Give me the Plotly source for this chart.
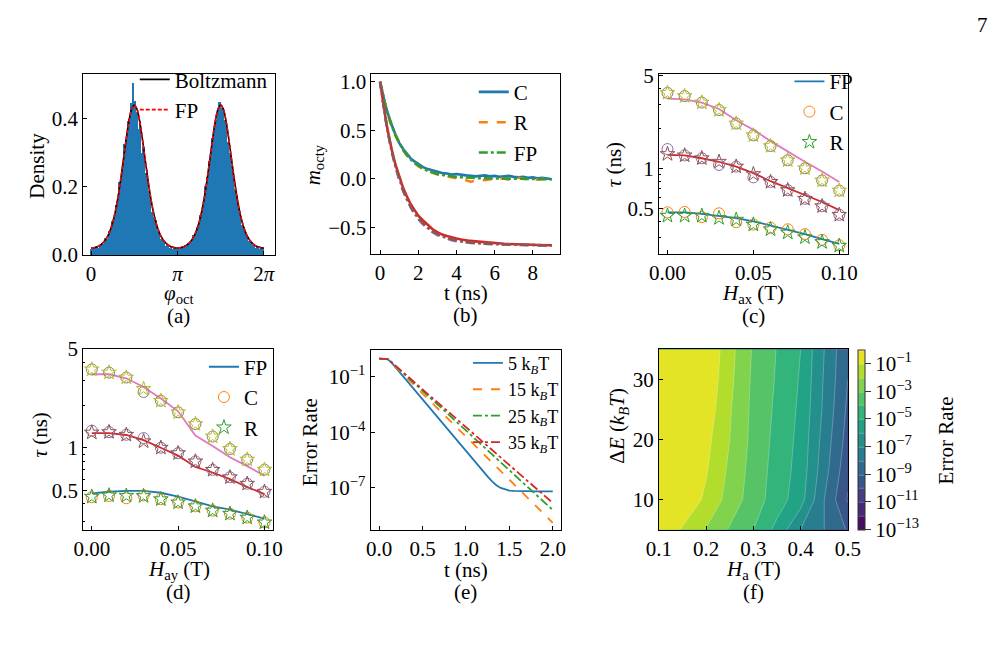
import numpy as np
import plotly.graph_objects as go

W, H = 1007, 645
FONT = "Liberation Serif, Times New Roman, serif"
FS = 21

# ---------------- (a) phase distribution ----------------
hist_edges = np.linspace(0, 2 * np.pi, 101)
hist_density = [
    0.018, 0.024, 0.020, 0.027, 0.022, 0.031, 0.036, 0.034, 0.050, 0.048,
    0.072, 0.071, 0.101, 0.108, 0.147, 0.160, 0.215, 0.226, 0.262, 0.325,
    0.338, 0.392, 0.398, 0.445, 0.505, 0.452, 0.418, 0.370, 0.392, 0.300,
    0.318, 0.242, 0.250, 0.188, 0.176, 0.128, 0.112, 0.102, 0.071, 0.068,
    0.049, 0.044, 0.036, 0.028, 0.031, 0.022, 0.027, 0.018, 0.024, 0.019,
    0.021, 0.017, 0.025, 0.022, 0.029, 0.027, 0.037, 0.040, 0.043, 0.058,
    0.062, 0.083, 0.090, 0.118, 0.133, 0.161, 0.202, 0.228, 0.276, 0.300,
    0.342, 0.370, 0.395, 0.420, 0.448, 0.430, 0.432, 0.395, 0.385, 0.332,
    0.298, 0.262, 0.238, 0.195, 0.172, 0.138, 0.118, 0.090, 0.082, 0.061,
    0.056, 0.042, 0.038, 0.029, 0.033, 0.022, 0.026, 0.017, 0.024, 0.020,
]
curve_phi = np.linspace(0, 2 * np.pi, 65)
boltzmann_density = [
    0.0206, 0.0212, 0.0231, 0.0266, 0.0322, 0.0406, 0.0529, 0.0705, 0.0950,
    0.1280, 0.1706, 0.2222, 0.2802, 0.3389, 0.3903, 0.4259, 0.4386,
    0.4259, 0.3903, 0.3389, 0.2802, 0.2222, 0.1706, 0.1280, 0.0950,
    0.0705, 0.0529, 0.0406, 0.0322, 0.0266, 0.0231, 0.0212, 0.0206,
    0.0212, 0.0231, 0.0266, 0.0322, 0.0406, 0.0529, 0.0705, 0.0950,
    0.1280, 0.1706, 0.2222, 0.2802, 0.3389, 0.3903, 0.4259, 0.4386,
    0.4259, 0.3903, 0.3389, 0.2802, 0.2222, 0.1706, 0.1280, 0.0950,
    0.0705, 0.0529, 0.0406, 0.0322, 0.0266, 0.0231, 0.0212, 0.0206,
]
fp_density = [
    0.0207, 0.0213, 0.0232, 0.0267, 0.0323, 0.0407, 0.0530, 0.0706, 0.0951,
    0.1281, 0.1707, 0.2223, 0.2803, 0.3390, 0.3904, 0.4260, 0.4387,
    0.4260, 0.3904, 0.3390, 0.2803, 0.2223, 0.1707, 0.1281, 0.0951,
    0.0706, 0.0530, 0.0407, 0.0323, 0.0267, 0.0232, 0.0213, 0.0207,
    0.0213, 0.0232, 0.0267, 0.0323, 0.0407, 0.0530, 0.0706, 0.0951,
    0.1281, 0.1707, 0.2223, 0.2803, 0.3390, 0.3904, 0.4260, 0.4387,
    0.4260, 0.3904, 0.3390, 0.2803, 0.2223, 0.1707, 0.1281, 0.0951,
    0.0706, 0.0530, 0.0407, 0.0323, 0.0267, 0.0232, 0.0213, 0.0207,
]

# ---------------- (b) relaxation ----------------
t_b = [0, 0.1, 0.2, 0.3, 0.4, 0.5, 0.6, 0.8, 1.0, 1.2, 1.4, 1.6, 1.8, 2.0,
       2.25, 2.5, 2.75, 3.0, 3.25, 3.5, 3.75, 4.0, 4.25, 4.5, 4.75, 5.0,
       5.25, 5.5, 5.75, 6.0, 6.25, 6.5, 6.75, 7.0, 7.25, 7.5, 7.75, 8.0,
       8.25, 8.5, 8.75, 9.0]
up_C = [1.0, 0.90, 0.83, 0.74, 0.68, 0.61, 0.56,
        0.46, 0.37, 0.31, 0.26, 0.21, 0.18, 0.15,
        0.12, 0.10, 0.085, 0.07, 0.06, 0.055, 0.045, 0.05, 0.04, 0.035,
        0.03, 0.025, 0.03, 0.035, 0.025, 0.03, 0.02, 0.025, 0.03, 0.02,
        0.015, 0.02, 0.01, 0.015, 0.005, 0.01, 0.0, -0.005]
up_R = [1.0, 0.90, 0.82, 0.75, 0.67, 0.60, 0.55,
        0.45, 0.36, 0.30, 0.24, 0.20, 0.16, 0.13,
        0.10, 0.08, 0.06, 0.045, 0.035, 0.025, 0.02, 0.01, 0.0, -0.015,
        -0.03, -0.02, -0.01, -0.015, -0.005, -0.01, 0.005, 0.0, -0.01, 0.0,
        0.01, 0.0, -0.005, 0.0, -0.01, 0.0, -0.005, -0.01]
up_FP = [1.0, 0.905, 0.82, 0.74, 0.67, 0.607, 0.55,
         0.45, 0.37, 0.30, 0.247, 0.20, 0.165, 0.135,
         0.105, 0.082, 0.064, 0.05, 0.04, 0.032, 0.026, 0.02, 0.016, 0.012,
         0.01, 0.008, 0.006, 0.005, 0.004, 0.003, 0.002, 0.002, 0.001, 0.001,
         0.0, 0.0, 0.0, -0.002, -0.002, -0.003, -0.004, -0.005]
lo_C = [1.0, 0.86, 0.73, 0.61, 0.50, 0.40, 0.31,
        0.15, 0.02, -0.09, -0.18, -0.26, -0.32, -0.38,
        -0.43, -0.48, -0.52, -0.55, -0.575, -0.59, -0.605, -0.615, -0.625, -0.635,
        -0.64, -0.645, -0.65, -0.655, -0.66, -0.665, -0.668, -0.67, -0.672, -0.675,
        -0.675, -0.678, -0.68, -0.68, -0.682, -0.683, -0.684, -0.685]
lo_R = [1.0, 0.85, 0.72, 0.60, 0.49, 0.385, 0.29,
        0.13, -0.01, -0.12, -0.215, -0.295, -0.36, -0.415,
        -0.47, -0.515, -0.55, -0.58, -0.60, -0.62, -0.632, -0.642, -0.65, -0.655,
        -0.66, -0.665, -0.668, -0.67, -0.672, -0.675, -0.677, -0.678, -0.68, -0.68,
        -0.682, -0.683, -0.684, -0.685, -0.686, -0.687, -0.688, -0.69]
lo_FP = [1.0, 0.854, 0.721, 0.599, 0.488, 0.387, 0.294,
         0.132, -0.003, -0.116, -0.21, -0.287, -0.353, -0.408,
         -0.463, -0.507, -0.542, -0.57, -0.593, -0.61, -0.624, -0.636, -0.645, -0.652,
         -0.658, -0.662, -0.666, -0.669, -0.671, -0.673, -0.675, -0.677, -0.678, -0.679,
         -0.68, -0.681, -0.682, -0.683, -0.684, -0.685, -0.686, -0.687]

# ---------------- (c) tau vs H_ax ----------------
H_field = [0.0, 0.01, 0.02, 0.03, 0.04, 0.05, 0.06, 0.07, 0.08, 0.09, 0.10]
c_fp1 = [0.467, 0.467, 0.454, 0.44, 0.423, 0.40, 0.372, 0.348, 0.32, 0.294, 0.271]
c_C1 = [0.467, 0.47, 0.43, 0.459, 0.394, 0.378, 0.358, 0.348, 0.320, 0.29, 0.264]
c_R1 = [0.44, 0.44, 0.44, 0.423, 0.411, 0.378, 0.348, 0.329, 0.303, 0.279, 0.262]
c_fp2 = [1.26, 1.25, 1.19, 1.12, 1.03, 0.92, 0.80, 0.708, 0.623, 0.558, 0.485]
c_C2 = [1.395, 1.25, 1.19, 1.06, 1.03, 0.855, 0.79, 0.685, 0.59, 0.519, 0.447]
c_R2 = [1.28, 1.25, 1.19, 1.12, 1.03, 0.905, 0.79, 0.685, 0.59, 0.519, 0.447]
c_fp3 = [3.34, 3.30, 3.12, 2.79, 2.30, 1.95, 1.60, 1.33, 1.12, 0.945, 0.79]
c_C3 = [3.69, 3.49, 3.12, 2.74, 2.17, 1.77, 1.47, 1.15, 1.0, 0.81, 0.68]
c_R3 = [3.69, 3.49, 3.12, 2.74, 2.17, 1.77, 1.47, 1.15, 1.0, 0.81, 0.68]

# ---------------- (d) tau vs H_ay ----------------
d_fp1 = [0.475, 0.488, 0.495, 0.495, 0.48, 0.451, 0.417, 0.385, 0.365, 0.341, 0.315]
d_C1 = [0.446, 0.455, 0.439, 0.46, 0.432, 0.41, 0.385, 0.359, 0.341, 0.32, 0.296]
d_R1 = [0.45, 0.46, 0.457, 0.455, 0.432, 0.41, 0.385, 0.359, 0.341, 0.32, 0.296]
d_fp2 = [1.27, 1.27, 1.23, 1.13, 1.0, 0.88, 0.73, 0.668, 0.60, 0.527, 0.47]
d_C2 = [1.32, 1.29, 1.235, 1.17, 1.0, 0.915, 0.80, 0.697, 0.618, 0.556, 0.488]
d_R2 = [1.28, 1.29, 1.235, 1.11, 1.0, 0.915, 0.80, 0.697, 0.618, 0.556, 0.488]
d_fp3 = [3.31, 3.31, 3.10, 2.69, 2.23, 1.81, 1.22, 1.03, 0.855, 0.741, 0.633]
d_C3 = [3.58, 3.40, 3.14, 2.48, 2.15, 1.78, 1.47, 1.20, 0.98, 0.824, 0.70]
d_R3 = [3.58, 3.40, 3.14, 2.61, 2.15, 1.78, 1.47, 1.20, 0.98, 0.824, 0.70]

# ---------------- (e) error rate vs time (log10 values) ----------------
t_e = [0, 0.05, 0.1, 0.15, 0.2, 0.25, 0.3, 0.4, 0.5, 0.6, 0.7, 0.8, 0.9, 1.0,
       1.1, 1.2, 1.25, 1.3, 1.35, 1.4, 1.45, 1.5, 1.55, 1.6, 1.7, 1.8, 1.9, 2.0]
log_err_5 = [-0.024, -0.024, -0.06, -0.28, -0.56, -0.84, -1.12, -1.68, -2.24,
             -2.80, -3.36, -3.92, -4.48, -5.04, -5.60, -6.14, -6.40, -6.65,
             -6.86, -7.01, -7.10, -7.15, -7.17, -7.18, -7.19, -7.19, -7.19, -7.19]
log_err_15 = [-0.024, -0.024, -0.05, -0.28, -0.52, -0.75, -0.98, -1.45, -1.91,
              -2.38, -2.84, -3.31, -3.77, -4.24, -4.70, -5.17, -5.40, -5.63,
              -5.86, -6.10, -6.33, -6.56, -6.79, -7.03, -7.49, -7.96, -8.42, -8.89]
log_err_25 = [-0.024, -0.024, -0.05, -0.26, -0.48, -0.69, -0.91, -1.34, -1.77,
              -2.20, -2.62, -3.05, -3.48, -3.91, -4.34, -4.77, -4.98, -5.20,
              -5.41, -5.63, -5.84, -6.06, -6.27, -6.49, -6.91, -7.34, -7.77, -8.20]
log_err_35 = [-0.024, -0.024, -0.05, -0.25, -0.46, -0.66, -0.87, -1.28, -1.69,
              -2.10, -2.50, -2.91, -3.32, -3.73, -4.14, -4.55, -4.75, -4.96,
              -5.16, -5.37, -5.57, -5.78, -5.98, -6.19, -6.60, -7.00, -7.41, -7.82]

# ---------------- (f) error-rate map (log10) ----------------
Ha_grid = [0.10, 0.15, 0.20, 0.25, 0.30, 0.35, 0.40, 0.45, 0.50]
dE_grid = [5, 10, 15, 20, 25, 30, 35]
log_err_map = [
    [-0.20, -1.10, -2.06, -3.10, -4.00, -5.30, -7.00, -8.00, -9.10],
    [-0.10, -0.20, -1.20, -2.40, -3.50, -4.50, -5.60, -8.00, -10.10],
    [-0.10, -0.15, -0.90, -2.20, -3.40, -4.40, -5.40, -7.60, -9.70],
    [-0.05, -0.10, -0.70, -2.00, -3.30, -4.30, -5.30, -7.40, -9.40],
    [-0.05, -0.10, -0.40, -1.90, -3.25, -4.20, -5.20, -7.20, -9.20],
    [-0.05, -0.05, -0.20, -1.75, -3.20, -4.10, -5.10, -7.10, -9.00],
    [-0.05, -0.05, -0.05, -1.65, -3.12, -4.04, -5.00, -7.00, -8.92],
]

# ---------------- styling ----------------
BLUE, ORANGE, GREEN, RED = "#1f77b4", "#ff7f0e", "#2ca02c", "#d62728"
PURPLE, BROWN, PINK, GRAY, OLIVE = "#9467bd", "#8c564b", "#e377c2", "#7f7f7f", "#bcbd22"

boxes = {  # left, right, top, bottom in pixels
    1: (72, 269, 65, 253),
    2: (368, 562, 65, 252),
    3: (663, 857, 65, 252),
    4: (72, 267, 350, 538),
    5: (367, 563, 352, 538),
    6: (663, 857, 351, 538),
}

fig = go.Figure()


def axn(i, kind):
    return kind if i == 1 else f"{kind}{i}"


# (a)
centers = (hist_edges[:-1] + hist_edges[1:]) / 2
fig.add_trace(go.Bar(x=centers, y=hist_density, width=hist_edges[1] - hist_edges[0],
                     marker=dict(color=BLUE, line=dict(width=0)), showlegend=False,
                     xaxis="x", yaxis="y"))
fig.add_trace(go.Scatter(x=curve_phi, y=boltzmann_density, mode="lines", name="Boltzmann",
                         line=dict(color="black", width=1.6, shape="spline"),
                         xaxis="x", yaxis="y", legend="legend"))
fig.add_trace(go.Scatter(x=curve_phi, y=fp_density, mode="lines", name="FP",
                         line=dict(color="red", width=1.6, dash="4px,2px", shape="spline"),
                         xaxis="x", yaxis="y", legend="legend"))

# (b)
for y, name, col, dash, show in [
    (up_C, "C", BLUE, "solid", True), (up_R, "R", ORANGE, "dash", True),
    (up_FP, "FP", GREEN, "dashdot", True),
    (lo_C, "C", RED, "solid", False), (lo_R, "R", PURPLE, "dash", False),
    (lo_FP, "FP", BROWN, "dashdot", False)]:
    fig.add_trace(go.Scatter(x=t_b, y=y, mode="lines", name=name, showlegend=show,
                             line=dict(color=col, width=2.6, dash=dash),
                             xaxis="x2", yaxis="y2", legend="legend2"))


def tau_panel(i, groups, legend):
    for k, (fp, cc, rr, cfp, ccc, crr) in enumerate(groups):
        show = k == 0
        fig.add_trace(go.Scatter(x=H_field, y=fp, mode="lines", name="FP", showlegend=show,
                                 line=dict(color=cfp, width=1.8),
                                 xaxis=axn(i, "x"), yaxis=axn(i, "y"), legend=legend))
        fig.add_trace(go.Scatter(x=H_field, y=cc, mode="markers", name="C", showlegend=show,
                                 marker=dict(symbol="circle-open", size=11, color=ccc,
                                             line=dict(width=1)),
                                 xaxis=axn(i, "x"), yaxis=axn(i, "y"), legend=legend))
        fig.add_trace(go.Scatter(x=H_field, y=rr, mode="markers", name="R", showlegend=show,
                                 marker=dict(symbol="star-open", size=11, color=crr,
                                             line=dict(width=1)),
                                 xaxis=axn(i, "x"), yaxis=axn(i, "y"), legend=legend))


tau_panel(3, [(c_fp1, c_C1, c_R1, BLUE, ORANGE, GREEN),
              (c_fp2, c_C2, c_R2, RED, PURPLE, BROWN),
              (c_fp3, c_C3, c_R3, PINK, GRAY, OLIVE)], "legend3")
tau_panel(4, [(d_fp1, d_C1, d_R1, BLUE, ORANGE, GREEN),
              (d_fp2, d_C2, d_R2, RED, PURPLE, BROWN),
              (d_fp3, d_C3, d_R3, PINK, GRAY, OLIVE)], "legend4")

# (e)
for y, name, col, dash in [
    (log_err_5, "5 k<sub><i>B</i></sub>T", BLUE, "solid"),
    (log_err_15, "15 k<sub><i>B</i></sub>T", ORANGE, "dash"),
    (log_err_25, "25 k<sub><i>B</i></sub>T", GREEN, "dashdot"),
    (log_err_35, "35 k<sub><i>B</i></sub>T", RED, "dashdot")]:
    fig.add_trace(go.Scatter(x=t_e, y=np.power(10.0, y), mode="lines", name=name,
                             line=dict(color=col, width=1.8, dash=dash),
                             xaxis="x5", yaxis="y5", legend="legend5"))

# (f)
exps = [-1, -3, -5, -7, -9, -11, -13]
fig.add_trace(go.Contour(
    x=Ha_grid, y=dE_grid, z=log_err_map, colorscale="Viridis",
    zmin=-13, zmax=0, autocontour=False,
    contours=dict(coloring="fill", start=-13, end=0, size=1, showlines=True),
    line=dict(width=0.6, color="rgba(255,255,255,0.45)", smoothing=0),
    xaxis="x6", yaxis="y6", showscale=True,
    colorbar=dict(x=867 / W, xanchor="left", xpad=0, ypad=0,
                  y=1 - 444.5 / H, yanchor="middle", len=187 / H, lenmode="fraction",
                  thickness=7, thicknessmode="pixels", outlinewidth=1, outlinecolor="#333",
                  ticks="outside", ticklen=6, tickcolor="#333",
                  tickvals=exps, ticktext=[f"10<sup>−{abs(e)}</sup>" for e in exps],
                  tickfont=dict(family=FONT, size=FS, color="black")),
))

layout = dict(
    width=W, height=H, margin=dict(l=0, r=0, t=0, b=0),
    paper_bgcolor="white", plot_bgcolor="white", bargap=0,
    font=dict(family=FONT, size=FS, color="black"),
)


def base_axis(i, is_x):
    l, r, t, b = boxes[i]
    dom = [l / W, r / W] if is_x else [1 - b / H, 1 - t / H]
    return dict(domain=dom, anchor=axn(i, "y" if is_x else "x"), showline=True,
                linecolor="black", linewidth=1, mirror=True, ticks="inside",
                ticklen=4, tickwidth=1, tickcolor="black", showgrid=False,
                zeroline=False, tickfont=dict(family=FONT, size=FS, color="black"))


minor_log = dict(ticks="inside", ticklen=2, tickcolor="black",
                 tickvals=[0.3, 0.4, 0.6, 0.7, 0.8, 0.9, 2, 3, 4])
xa = {i: base_axis(i, True) for i in boxes}
ya = {i: base_axis(i, False) for i in boxes}

xa[1].update(range=[-0.29, 6.69], tickvals=[0, np.pi, 2 * np.pi],
             ticktext=["0", "<i>π</i>", "2<i>π</i>"])
ya[1].update(range=[0, 0.53], tickvals=[0, 0.2, 0.4], ticktext=["0.0", "0.2", "0.4"])
xa[2].update(range=[-0.45, 9.45], tickvals=[0, 2, 4, 6, 8])
ya[2].update(range=[-0.775, 1.083], tickvals=[-0.5, 0, 0.5, 1.0],
             ticktext=["−0.5", "0.0", "0.5", "1.0"])
xa[3].update(range=[-0.005, 0.105], tickvals=[0, 0.05, 0.1], ticktext=["0.00", "0.05", "0.10"])
ya[3].update(type="log", range=[-0.644, 0.711], tickvals=[0.5, 1, 5],
             ticktext=["0.5", "1", "5"], minor=minor_log)
xa[4].update(range=[-0.005, 0.105], tickvals=[0, 0.05, 0.1], ticktext=["0.00", "0.05", "0.10"])
ya[4].update(type="log", range=[-0.581, 0.702], tickvals=[0.5, 1, 5],
             ticktext=["0.5", "1", "5"], minor=minor_log)
xa[5].update(range=[-0.1, 2.1], tickvals=[0, 0.5, 1, 1.5, 2],
             ticktext=["0.0", "0.5", "1.0", "1.5", "2.0"])
ya[5].update(type="log", range=[-9.27, 0.416], tickvals=[1e-1, 1e-4, 1e-7],
             ticktext=["10<sup>−1</sup>", "10<sup>−4</sup>", "10<sup>−7</sup>"])
xa[6].update(range=[0.1, 0.5], tickvals=[0.1, 0.2, 0.3, 0.4, 0.5],
             ticktext=["0.1", "0.2", "0.3", "0.4", "0.5"])
ya[6].update(range=[5, 35], tickvals=[10, 20, 30])

for i in boxes:
    layout[("xaxis" if i == 1 else f"xaxis{i}")] = xa[i]
    layout[("yaxis" if i == 1 else f"yaxis{i}")] = ya[i]


def leg(xpx, ypx, size=FS):
    return dict(x=xpx / W, y=1 - ypx / H, xanchor="left", yanchor="top",
                bgcolor="rgba(0,0,0,0)", borderwidth=0, itemwidth=30,
                font=dict(family=FONT, size=size, color="black"))


layout["legend"] = leg(125, 50)
layout["legend2"] = leg(473, 63)
layout["legend3"] = leg(797, 52)
layout["legend4"] = leg(196, 348)
layout["legend5"] = leg(467, 346, 18)


def ann(text, x, y, size=FS, angle=0):
    return dict(text=text, x=x / W, y=1 - y / H, xref="paper", yref="paper",
                showarrow=False, textangle=angle, xanchor="center", yanchor="middle",
                font=dict(family=FONT, size=size, color="black"))


layout["annotations"] = [
    ann("7", 995, 15),
    ann("<i>φ</i><sub>oct</sub>", 170, 293),
    ann("(a)", 170, 316),
    ann("t (ns)", 465, 292),
    ann("(b)", 465, 315),
    ann("<i>H</i><sub>ax</sub> (T)", 760, 293),
    ann("(c)", 760, 316),
    ann("<i>H</i><sub>ay</sub> (T)", 170, 580),
    ann("(d)", 170, 603),
    ann("t (ns)", 465, 580),
    ann("(e)", 465, 602),
    ann("<i>H</i><sub>a</sub> (T)", 760, 580),
    ann("(f)", 760, 603),
    ann("Density", 25, 160, angle=-90),
    ann("<i>m</i><sub>octy</sub>", 309, 160, angle=-90),
    ann("<i>τ</i> (ns)", 617, 160, angle=-90),
    ann("<i>τ</i> (ns)", 28, 440, angle=-90),
    ann("Error Rate", 305, 447, angle=-90),
    ann("Δ<i>E</i> (<i>k<sub>B</sub>T</i>)", 621, 430, angle=-90),
    ann("Error Rate", 958, 445, angle=-90),
]

fig.update_layout(**layout)
fig.write_html("out.html")
